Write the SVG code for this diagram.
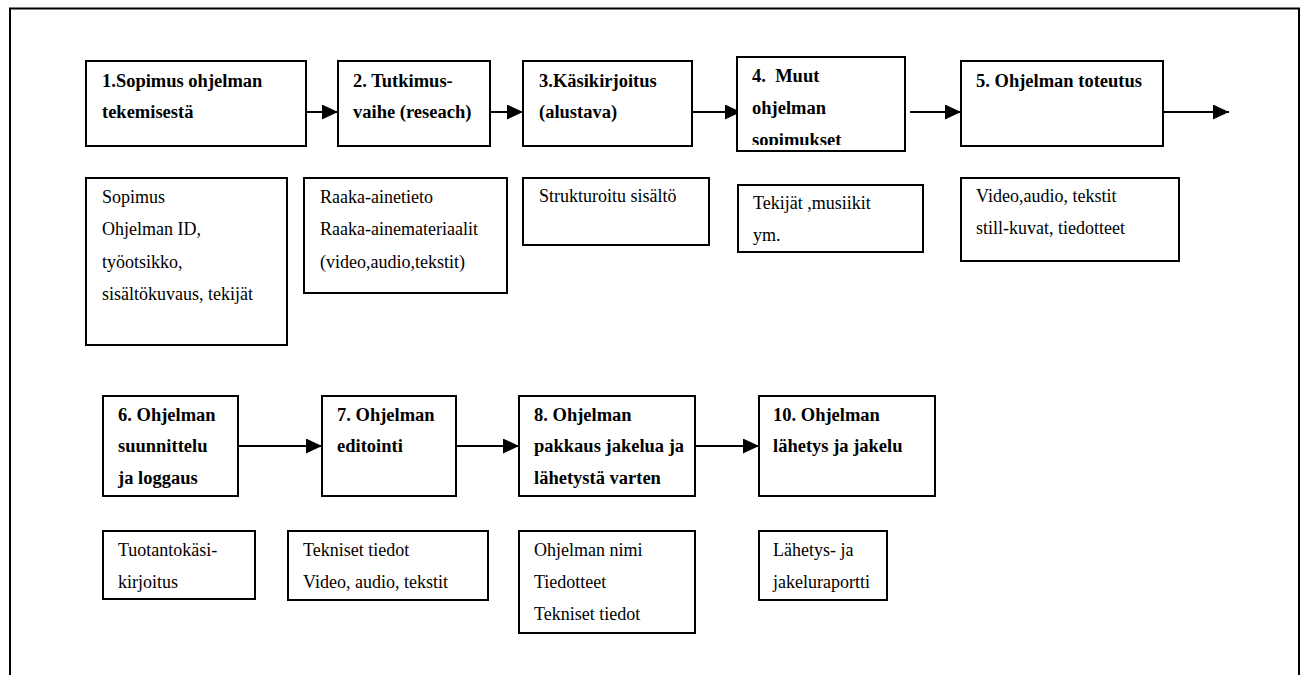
<svg xmlns="http://www.w3.org/2000/svg" width="1303" height="675" viewBox="0 0 1303 675">
  <style>
    .box { fill: #ffffff; stroke: #000000; stroke-width: 2; }
    .frame { fill: none; stroke: #000000; stroke-width: 2; }
    .title { font-family: "Liberation Serif", Tinos, "DejaVu Serif", serif; font-size: 18.5px; font-weight: bold; fill: #000000; }
    .body { font-family: "Liberation Serif", Tinos, "DejaVu Serif", serif; font-size: 18px; fill: #000000; }
    .conn { stroke: #000000; stroke-width: 2; fill: none; marker-end: url(#head); }
  </style>
  <defs>
    <marker id="head" viewBox="0 0 16 15" refX="16" refY="7.5" markerWidth="16" markerHeight="15" markerUnits="userSpaceOnUse" orient="auto">
      <polygon points="0,0 16,7.5 0,15" fill="#000000"/>
    </marker>
    <!-- text area of phase 4; the last line overflows and is cut -->
    <clipPath id="clip-n4">
      <rect x="737" y="57" width="168" height="88"/>
    </clipPath>
  </defs>

  <rect width="1303" height="675" fill="#ffffff"/>

  <!-- page frame, open at the bottom -->
  <path class="frame" d="M10,675 V8.5 H1299 V675"/>

  <!-- flow connectors -->
  <g id="connectors">
    <line class="conn" x1="306" y1="112" x2="338" y2="112"/>
    <line class="conn" x1="490" y1="112" x2="523" y2="112"/>
    <line class="conn" x1="692" y1="112" x2="741" y2="112"/>
    <line class="conn" x1="910" y1="112" x2="961" y2="112"/>
    <line class="conn" x1="1163" y1="112" x2="1229" y2="112"/>
    <line class="conn" x1="238" y1="446" x2="322" y2="446"/>
    <line class="conn" x1="456" y1="446" x2="519" y2="446"/>
    <line class="conn" x1="695" y1="446" x2="759" y2="446"/>
  </g>

  <!-- phase 1 -->
  <g id="n1">
    <rect class="box" x="86" y="61" width="220" height="85"/>
    <text class="title" x="102" y="87">1.Sopimus ohjelman</text>
    <text class="title" x="102" y="118">tekemisestä</text>
  </g>
  <g id="n1-info">
    <rect class="box" x="86" y="178" width="201" height="167"/>
    <text class="body" x="102" y="203">Sopimus</text>
    <text class="body" x="102" y="235">Ohjelman ID,</text>
    <text class="body" x="102" y="268">työotsikko,</text>
    <text class="body" x="102" y="300">sisältökuvaus, tekijät</text>
  </g>

  <!-- phase 2 -->
  <g id="n2">
    <rect class="box" x="338" y="61" width="152" height="85"/>
    <text class="title" x="353" y="87">2. Tutkimus-</text>
    <text class="title" x="353" y="118">vaihe (reseach)</text>
  </g>
  <g id="n2-info">
    <rect class="box" x="304" y="178" width="203" height="115"/>
    <text class="body" x="320" y="203">Raaka-ainetieto</text>
    <text class="body" x="320" y="235">Raaka-ainemateriaalit</text>
    <text class="body" x="320" y="268">(video,audio,tekstit)</text>
  </g>

  <!-- phase 3 -->
  <g id="n3">
    <rect class="box" x="523" y="61" width="169" height="85"/>
    <text class="title" x="539" y="87">3.Käsikirjoitus</text>
    <text class="title" x="539" y="118">(alustava)</text>
  </g>
  <g id="n3-info">
    <rect class="box" x="523" y="178" width="186" height="67"/>
    <text class="body" x="539" y="202">Strukturoitu sisältö</text>
  </g>

  <!-- phase 4 -->
  <g id="n4">
    <rect class="box" x="737" y="57" width="168" height="94"/>
    <g clip-path="url(#clip-n4)">
      <text class="title" x="752" y="82" xml:space="preserve">4.  Muut</text>
      <text class="title" x="752" y="114">ohjelman</text>
      <text class="title" x="752" y="146">sopimukset</text>
    </g>
  </g>
  <g id="n4-info">
    <rect class="box" x="738" y="185" width="185" height="67"/>
    <text class="body" x="753" y="209">Tekijät ,musiikit</text>
    <text class="body" x="753" y="241">ym.</text>
  </g>

  <!-- phase 5 -->
  <g id="n5">
    <rect class="box" x="961" y="61" width="202" height="85"/>
    <text class="title" x="976" y="87">5. Ohjelman toteutus</text>
  </g>
  <g id="n5-info">
    <rect class="box" x="961" y="178" width="218" height="83"/>
    <text class="body" x="976" y="202">Video,audio, tekstit</text>
    <text class="body" x="976" y="234">still-kuvat, tiedotteet</text>
  </g>

  <!-- phase 6 -->
  <g id="n6">
    <rect class="box" x="103" y="396" width="135" height="100"/>
    <text class="title" x="118" y="421">6. Ohjelman</text>
    <text class="title" x="118" y="452">suunnittelu</text>
    <text class="title" x="118" y="484">ja loggaus</text>
  </g>
  <g id="n6-info">
    <rect class="box" x="103" y="531" width="152" height="68"/>
    <text class="body" x="118" y="556">Tuotantokäsi-</text>
    <text class="body" x="118" y="588">kirjoitus</text>
  </g>

  <!-- phase 7 -->
  <g id="n7">
    <rect class="box" x="322" y="396" width="134" height="100"/>
    <text class="title" x="337" y="421">7. Ohjelman</text>
    <text class="title" x="337" y="452">editointi</text>
  </g>
  <g id="n7-info">
    <rect class="box" x="288" y="531" width="200" height="69"/>
    <text class="body" x="303" y="556">Tekniset tiedot</text>
    <text class="body" x="303" y="588">Video, audio, tekstit</text>
  </g>

  <!-- phase 8 -->
  <g id="n8">
    <rect class="box" x="519" y="396" width="176" height="100"/>
    <text class="title" x="534" y="421">8. Ohjelman</text>
    <text class="title" x="534" y="452">pakkaus jakelua ja</text>
    <text class="title" x="534" y="484">lähetystä varten</text>
  </g>
  <g id="n8-info">
    <rect class="box" x="519" y="531" width="176" height="102"/>
    <text class="body" x="534" y="556">Ohjelman nimi</text>
    <text class="body" x="534" y="588">Tiedotteet</text>
    <text class="body" x="534" y="620">Tekniset tiedot</text>
  </g>

  <!-- phase 10 -->
  <g id="n10">
    <rect class="box" x="759" y="396" width="176" height="100"/>
    <text class="title" x="773" y="421">10. Ohjelman</text>
    <text class="title" x="773" y="452">lähetys ja jakelu</text>
  </g>
  <g id="n10-info">
    <rect class="box" x="759" y="531" width="128" height="69"/>
    <text class="body" x="773" y="556">Lähetys- ja</text>
    <text class="body" x="773" y="588">jakeluraportti</text>
  </g>
</svg>
